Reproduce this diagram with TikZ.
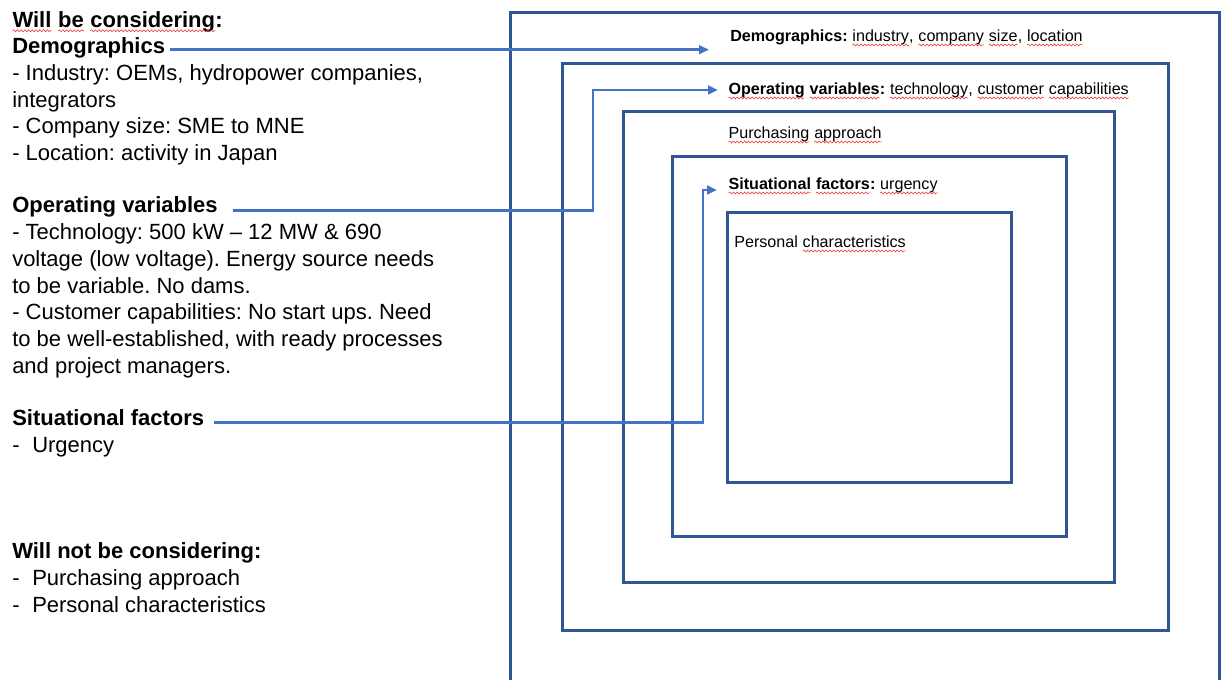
\documentclass[tikz,border=0pt]{standalone}
\usepackage{fontspec}
\setmainfont{Liberation Sans}
\usetikzlibrary{arrows.meta,decorations.pathmorphing}
\definecolor{boxblue}{HTML}{2F5597}
\definecolor{arrowblue}{HTML}{4472C4}
\definecolor{spellred}{HTML}{F02C2C}
\frenchspacing
% wavy red underline, as a spell checker marks a word
\newcommand{\spell}[1]{\tikz[baseline=(sw.base)]{%
  \node[inner sep=0pt, outer sep=0pt, anchor=base west] (sw) at (0,0) {#1};
  \draw[spellred, line width=0.4pt, decorate,
    decoration={snake, amplitude=0.75pt, segment length=2.8pt}]
    ([yshift=-2.6pt]sw.base west) -- ([yshift=-2.6pt]sw.base east);}}
\newcommand{\dashitem}[1]{\hbox to 15pt{-\hfil}#1}

\tikzset{
  lefttext/.style={anchor=base west, inner sep=0pt, font=\fontsize{16.5}{19}\selectfont},
  boxtext/.style={anchor=base west, inner sep=0pt, font=\fontsize{12.1}{14}\selectfont},
  frame/.style={draw=boxblue, line width=2.25pt},
  conn/.style={draw=arrowblue, line width=2pt,
    -{Triangle[length=7.5pt,width=6.5pt]}},
}

\begin{document}
\begin{tikzpicture}[x=0.75pt,y=-0.75pt]
\useasboundingbox (0,0) rectangle (1221,680);
\clip (0,0) rectangle (1221,680);
\fill[white] (0,0) rectangle (1221,680);

% nested frames
\draw[frame] (510,13) rectangle (1219,720);
\draw[frame] (562,64) rectangle (1168,630);
\draw[frame] (623,112) rectangle (1114,582);
\draw[frame] (672,157) rectangle (1066,537);
\draw[frame] (727,213) rectangle (1011,483);

% labels inside the frames
\node[boxtext] (bdemo) at (730,41.5) {\textbf{Demographics:} \spell{industry}, \spell{company} \spell{size}, \spell{location}};
\node[boxtext] (boper) at (728,94.5) {\textbf{\spell{Operating} \spell{variables}:} \spell{technology}, \spell{customer} \spell{capabilities}};
\node[boxtext] (bpurch) at (728,138.5) {\spell{Purchasing} \spell{approach}};
\node[boxtext] (bsit) at (728,189.5) {\textbf{\spell{Situational} \spell{factors}:} \spell{urgency}};
\node[boxtext] (bpers) at (734,247.5) {Personal \spell{characteristics}};

% left column
\node[lefttext] (wb) at (12,27.3) {\textbf{\spell{Will} \spell{be} \spell{considering}:}};
\node[lefttext] (demo) at (12,54) {\textbf{Demographics}};
\node[lefttext] (d1) at (12,80.7) {- Industry: OEMs, hydropower companies,};
\node[lefttext] (d2) at (12,107.4) {integrators};
\node[lefttext] (d3) at (12,134) {- Company size: SME to MNE};
\node[lefttext] (d4) at (12,160.8) {- Location: activity in Japan};

\node[lefttext] (oper) at (12,213) {\textbf{Operating variables}};
\node[lefttext] (o1) at (12,239.7) {- Technology: 500 kW – 12 MW \& 690};
\node[lefttext] (o2) at (12,266.4) {voltage (low voltage). Energy source needs};
\node[lefttext] (o3) at (12,293.1) {to be variable. No dams.};
\node[lefttext] (o4) at (12,319.8) {- Customer capabilities: No start ups. Need};
\node[lefttext] (o5) at (12,346.5) {to be well-established, with ready processes};
\node[lefttext] (o6) at (12,373.2) {and project managers.};

\node[lefttext] (sit) at (12,426) {\textbf{Situational factors}};
\node[lefttext] (s1) at (12,452.7) {\dashitem{Urgency}};

\node[lefttext] (wnb) at (12,559) {\textbf{Will not be considering:}};
\node[lefttext] (n1) at (12,585.7) {\dashitem{Purchasing approach}};
\node[lefttext] (n2) at (12,612.4) {\dashitem{Personal characteristics}};

% connectors from the left headings to the frame labels
\coordinate (a1) at ([xshift=3.5pt,yshift=-1pt]demo.east);
\coordinate (a2) at ([xshift=11pt,yshift=-2.4pt]oper.east);
\coordinate (a3) at ([xshift=7pt,yshift=-3.3pt]sit.east);
\coordinate (t1) at (709,50);
\coordinate (c2) at (593,90);
\coordinate (t2) at (718,90);
\coordinate (c3) at (703,190);
\coordinate (t3) at (717,190);

\draw[conn] (a1) -- (a1 -| t1);
\draw[conn] (a2) -| (c2) -- (t2);
\draw[conn] (a3) -| (c3) -- (t3);
\end{tikzpicture}
\end{document}
